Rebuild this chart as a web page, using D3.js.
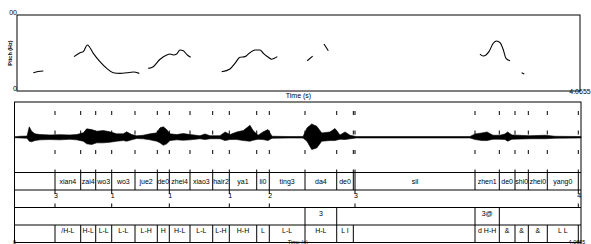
<!DOCTYPE html>
<html>
<head>
<meta charset="utf-8">
<style>
  body { margin: 0; background: #fff; }
  svg { display: block; font-family: "Liberation Sans", Arial, sans-serif; }
</style>
</head>
<body>
<svg width="591" height="244"></svg>
<script src="https://cdn.jsdelivr.net/npm/d3@7"></script>
<script>
var duration = 4.0655;

// pitch track, null = unvoiced gap
var pitchTimes = [0.118, 0.152, 0.190, null,
  0.412, 0.455, 0.479, 0.508, 0.551, 0.599, 0.648, 0.695, 0.744, 0.792, 0.840, 0.883, null,
  0.948, 0.984, 1.033, 1.081, 1.105, 1.129, 1.153, 1.177, 1.201, 1.225, 1.254, null,
  1.478, 1.538, 1.574, 1.610, 1.646, 1.682, 1.719, 1.755, 1.779, 1.815, 1.839, 1.880, null,
  2.096, 2.135, null,
  2.217, 2.248, null,
  3.343, 3.367, 3.408, 3.439, 3.464, 3.488, 3.512, 3.531, 3.560, null,
  3.644, 3.663];
var pitchHz = [120, 128, 132, null,
  226, 252, 259, 303, 248, 193, 149, 120, 116, 120, 125, 116, null,
  149, 160, 209, 237, 243, 237, 243, 270, 265, 241, 222, null,
  127, 145, 182, 222, 226, 252, 270, 270, 248, 222, 209, 226, null,
  199, 230, null,
  309, 265, null,
  243, 230, 259, 314, 329, 318, 270, 215, 199, null,
  120, 112];

// waveform envelope (s, upper / lower amplitude)
var waveTimes = [0, 0.039, 0.090, 0.106, 0.123, 0.147, 0.183, 0.255, 0.327, 0.398, 0.446, 0.494, 0.518, 0.554,
  0.590, 0.637, 0.685, 0.733, 0.781, 0.805, 0.841, 0.877, 0.924, 0.972, 1.021, 1.044, 1.068, 1.092,
  1.116, 1.164, 1.211, 1.260, 1.331, 1.367, 1.403, 1.475, 1.511, 1.547, 1.595, 1.642, 1.690, 1.712,
  1.748, 1.783, 1.819, 1.848, 1.977, 2.071, 2.099, 2.133, 2.169, 2.205, 2.264, 2.300, 2.336, 2.372,
  2.408, 2.451, 3.269, 3.305, 3.355, 3.391, 3.434, 3.484, 3.520, 3.539, 3.570, 3.700, 3.807, 3.879, 4.0655];
var waveUpper = [0.014, 0.028, 0.034, 0.295, 0.170, 0.096, 0.077, 0.065, 0.074, 0.065, 0.077, 0.125, 0.238, 0.218,
  0.170, 0.190, 0.153, 0.096, 0.096, 0.153, 0.077, 0.040, 0.057, 0.096, 0.125, 0.267, 0.295, 0.218,
  0.096, 0.077, 0.105, 0.077, 0.043, 0.094, 0.043, 0.043, 0.150, 0.077, 0.150, 0.190, 0.340, 0.190,
  0.057, 0.150, 0.218, 0.028, 0.020, 0.023, 0.264, 0.377, 0.312, 0.122, 0.150, 0.247, 0.065, 0.150,
  0.057, 0.020, 0.020, 0.094, 0.122, 0.150, 0.057, 0.057, 0.094, 0.150, 0.065, 0.043, 0.057, 0.028, 0.020];
var waveLower = [0.014, 0.020, 0.028, 0.113, 0.130, 0.094, 0.074, 0.065, 0.074, 0.057, 0.074, 0.113, 0.187, 0.207,
  0.159, 0.159, 0.142, 0.113, 0.094, 0.113, 0.074, 0.037, 0.045, 0.074, 0.113, 0.159, 0.227, 0.187,
  0.094, 0.074, 0.085, 0.074, 0.043, 0.065, 0.043, 0.043, 0.094, 0.065, 0.065, 0.094, 0.113, 0.085,
  0.057, 0.065, 0.094, 0.028, 0.020, 0.023, 0.113, 0.349, 0.304, 0.113, 0.094, 0.094, 0.057, 0.065,
  0.045, 0.020, 0.020, 0.065, 0.094, 0.094, 0.057, 0.057, 0.065, 0.113, 0.057, 0.043, 0.043, 0.028, 0.020];

// tier 1: words
var wordBounds = [0, 0.2907, 0.4751, 0.5828, 0.6976, 0.8648, 1.0248, 1.1110, 1.2595, 1.4224, 1.5415, 1.7382,
  1.8286, 2.0848, 2.3123, 2.4315, 2.4437, 3.3049, 3.4793, 3.5919, 3.6874, 3.8237, 4.0462, 4.0655];
var wordLabels = ["", "xian4", "zai4", "wo3", "wo3", "jue2", "de0", "zhei4", "xiao3", "hair2", "ya1", "li0",
  "ting3", "da4", "de0", "", "sil", "zhen1", "de0", "shi0", "zhei0", "yang0", ""];

// tier 2: break indices (points)
var breakTimes = [0.2907, 0.6976, 1.1110, 1.5415, 1.8286, 2.4437, 4.0462];
var breakLabels = ["3", "1", "1", "1", "2", "3", "4"];

// tier 3
var t3Bounds = [0, 2.0848, 2.3123, 3.3049, 3.4793, 4.0655];
var t3Labels = ["", "3", "", "3@", ""];

// tier 4: tones
var toneBounds = [0, 0.2907, 0.4751, 0.5828, 0.6976, 0.8648, 1.0248, 1.1110, 1.2595, 1.4224, 1.5415, 1.7382,
  1.8286, 2.0848, 2.3123, 2.4315, 3.3049, 3.4793, 3.5919, 3.6874, 3.8237, 4.0462, 4.0655];
var toneLabels = ["", "/H-L", "H-L", "L-L", "L-L", "L-H", "H", "H-L", "L-L", "L-H", "H-H", "L",
  "L-L", "H-L", "L I", "", "d H-H", "&", "&", "&", "L L", ""];

var svg = d3.select("svg");
var fs = 7;

// ---------- top panel: pitch ----------
var xTop = d3.scaleLinear().domain([0, duration]).range([17, 580]),
    yPitch = d3.scaleLinear().domain([0, 500]).range([91, 15]);

var pitchG = svg.append("g");

pitchG.append("rect")
    .attr("x", xTop(0)).attr("y", yPitch(500))
    .attr("width", xTop(duration) - xTop(0))
    .attr("height", yPitch(0) - yPitch(500))
    .attr("fill", "none").attr("stroke", "#000").attr("stroke-width", 1);

var pitchLine = d3.line()
    .defined(function(d) { return d[1] != null; })
    .x(function(d) { return xTop(d[0]); })
    .y(function(d) { return yPitch(d[1]); })
    .curve(d3.curveMonotoneX);

pitchG.append("path")
    .datum(d3.zip(pitchTimes, pitchHz))
    .attr("d", pitchLine)
    .attr("fill", "none").attr("stroke", "#000").attr("stroke-width", 1.1);

pitchG.append("text").attr("x", 17).attr("y", 15).attr("text-anchor", "end")
    .attr("font-size", fs).text("00");
pitchG.append("text").attr("x", 17).attr("y", 91).attr("text-anchor", "end")
    .attr("font-size", fs).text("0");
pitchG.append("text").attr("x", 580).attr("y", 93.5).attr("text-anchor", "middle")
    .attr("font-size", fs).text("4.0655");
pitchG.append("text").attr("x", (xTop(0) + xTop(duration)) / 2).attr("y", 97.5).attr("text-anchor", "middle")
    .attr("font-size", fs).text("Time (s)");
pitchG.append("text")
    .attr("transform", "translate(12," + yPitch(250) + ") rotate(-90)")
    .attr("text-anchor", "middle").attr("font-size", 5.5).attr("font-weight", "bold")
    .text("Pitch (Hz)");

// ---------- bottom panel: waveform + tiers ----------
var xBot = d3.scaleLinear().domain([0, duration]).range([14.5, 581]);
var panelTop = 102, waveBottom = 172.5, tierH = 17.5;
var yWave = d3.scaleLinear().domain([-1, 1]).range([waveBottom, panelTop]);
var tierTops = [waveBottom, waveBottom + tierH, waveBottom + 2 * tierH, waveBottom + 3 * tierH];
var panelBottom = waveBottom + 4 * tierH;

var bot = svg.append("g");

var waveArea = d3.area()
    .x(function(d) { return xBot(d[0]); })
    .y0(function(d) { return yWave(-d[2]); })
    .y1(function(d) { return yWave(d[1]); });

bot.append("path")
    .datum(d3.zip(waveTimes, waveUpper, waveLower))
    .attr("d", waveArea)
    .attr("fill", "#000").attr("stroke", "#000").attr("stroke-width", 0.6);

// dotted boundaries through the waveform
bot.selectAll(".dot")
    .data(wordBounds.slice(1, -1))
    .enter().append("line")
      .attr("x1", function(d) { return xBot(d); })
      .attr("x2", function(d) { return xBot(d); })
      .attr("y1", 111).attr("y2", waveBottom)
      .attr("stroke", "#000").attr("stroke-width", 1)
      .attr("stroke-dasharray", "4,15.5");

// frame and tier separators
bot.append("rect")
    .attr("x", xBot(0)).attr("y", panelTop)
    .attr("width", xBot(duration) - xBot(0))
    .attr("height", panelBottom - panelTop)
    .attr("fill", "none").attr("stroke", "#000").attr("stroke-width", 1);

bot.selectAll(".sep")
    .data(tierTops)
    .enter().append("line")
      .attr("x1", xBot(0)).attr("x2", xBot(duration))
      .attr("y1", function(d) { return d; })
      .attr("y2", function(d) { return d; })
      .attr("stroke", "#000").attr("stroke-width", 1);

function intervalTier(bounds, labels, y0, baseline) {
  var g = bot.append("g");
  g.selectAll("line")
      .data(bounds.slice(1, -1))
      .enter().append("line")
        .attr("x1", function(d) { return xBot(d); })
        .attr("x2", function(d) { return xBot(d); })
        .attr("y1", y0).attr("y2", y0 + tierH)
        .attr("stroke", "#000").attr("stroke-width", 1);
  g.selectAll("text")
      .data(labels)
      .enter().append("text")
        .attr("x", function(d, i) { return (xBot(bounds[i]) + xBot(bounds[i + 1])) / 2; })
        .attr("y", baseline)
        .attr("text-anchor", "middle")
        .attr("font-size", fs)
        .text(function(d) { return d; });
}

intervalTier(wordBounds, wordLabels, tierTops[0], 184);
intervalTier(t3Bounds, t3Labels, tierTops[2], 215.7);
intervalTier(toneBounds, toneLabels, tierTops[3], 233);

// point tier
var pts = bot.append("g").selectAll("g")
    .data(d3.zip(breakTimes, breakLabels))
    .enter().append("g")
      .attr("transform", function(d) { return "translate(" + xBot(d[0]) + ",0)"; });

pts.append("line")
    .attr("y1", tierTops[1]).attr("y2", tierTops[1] + 4)
    .attr("stroke", "#000").attr("stroke-width", 1);
pts.append("line")
    .attr("y1", tierTops[2] - 4).attr("y2", tierTops[2])
    .attr("stroke", "#000").attr("stroke-width", 1);
pts.append("text")
    .attr("x", 1).attr("y", 198.3)
    .attr("text-anchor", "middle").attr("font-size", fs)
    .text(function(d) { return d[1]; });

// bottom axis texts, squeezed under the frame
bot.append("text").attr("x", xBot(0)).attr("y", 243.5).attr("text-anchor", "middle")
    .attr("font-size", 5.5).text("0");
bot.append("text").attr("x", xBot(duration) - 4).attr("y", 243.5).attr("text-anchor", "middle")
    .attr("font-size", 5.5).text("4.0655");
bot.append("text").attr("x", (xBot(0) + xBot(duration)) / 2).attr("y", 243.5).attr("text-anchor", "middle")
    .attr("font-size", 5.5).text("Time (s)");
</script>
</body>
</html>
